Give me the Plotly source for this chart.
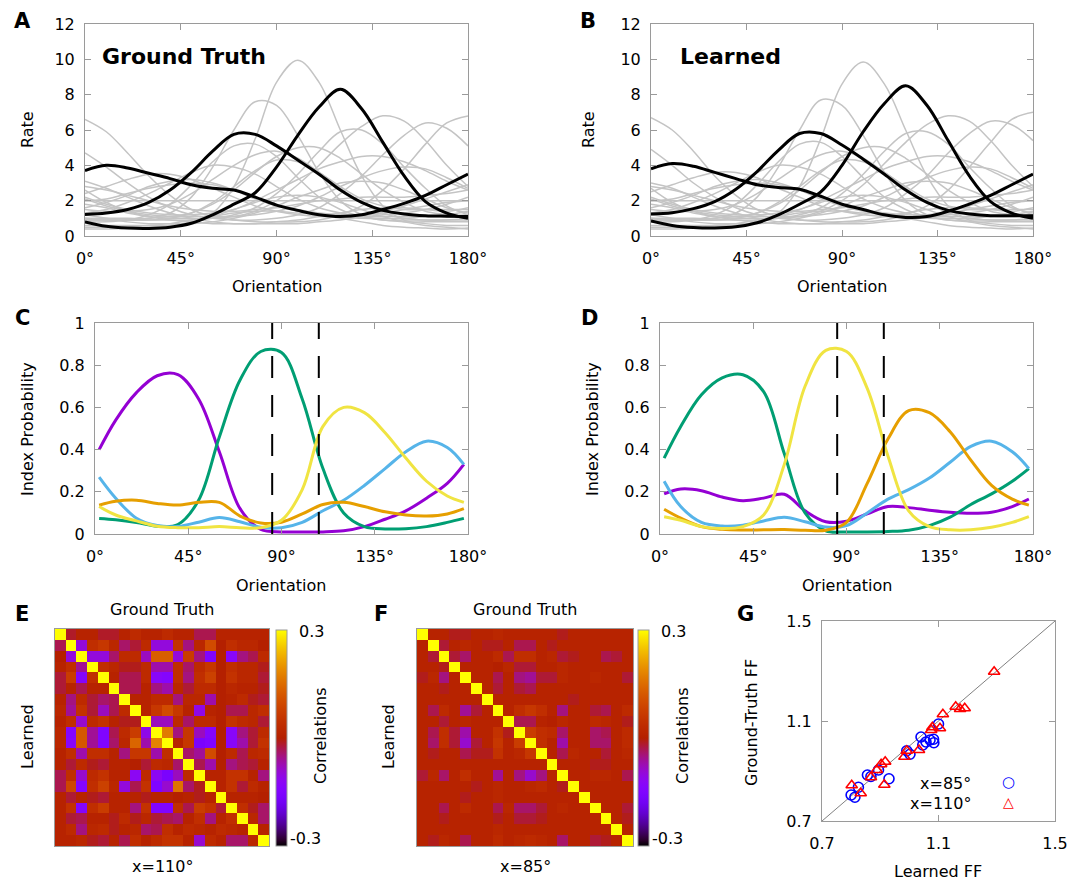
import math
import plotly.graph_objects as go

W, H = 1087, 881
OFF = 8  # page body margin of the browser
FONT = "DejaVu Sans"

# ---------------- data: panels A / B (tuning curves) ----------------
orient = [0, 10, 20, 30, 40, 50, 60, 70, 80, 90, 100, 110, 120, 130, 140, 150, 160, 170, 180]

gt_gray = [
    [0.6, 0.6, 0.6, 0.6, 0.6, 0.8, 1.3, 2.8, 5.5, 8.7, 9.95, 8.7, 6.0, 3.4, 1.7, 0.9, 0.7, 0.6, 0.6],
    [0.9, 0.9, 0.9, 1.0, 1.3, 2.2, 3.9, 6.0, 7.6, 7.4, 5.7, 3.6, 2.0, 1.2, 0.9, 0.9, 0.9, 0.9, 0.9],
    [2.6, 1.9, 1.4, 1.1, 1.0, 1.0, 1.0, 1.1, 1.4, 2.0, 2.9, 4.0, 5.2, 6.2, 6.8, 6.5, 5.4, 4.0, 2.8],
    [4.7, 3.9, 3.0, 2.2, 1.6, 1.2, 1.0, 0.9, 0.9, 1.0, 1.2, 1.6, 2.4, 3.4, 4.6, 5.7, 6.4, 6.1, 5.1],
    [6.6, 5.9, 4.7, 3.4, 2.3, 1.5, 1.1, 0.9, 0.8, 0.8, 0.8, 0.9, 1.2, 1.7, 2.6, 3.8, 5.2, 6.4, 6.8],
    [0.9, 0.9, 0.9, 0.9, 0.9, 0.9, 1.0, 1.2, 1.6, 2.4, 3.5, 4.8, 5.9, 6.0, 5.2, 3.9, 2.7, 1.7, 1.2],
    [0.8, 0.8, 0.9, 1.2, 1.8, 2.9, 4.2, 5.1, 5.2, 4.5, 3.3, 2.2, 1.5, 1.1, 0.9, 0.8, 0.8, 0.8, 0.8],
    [1.0, 1.0, 1.0, 1.0, 1.1, 1.3, 1.8, 2.6, 3.6, 4.5, 5.0, 5.0, 4.4, 3.5, 2.6, 1.9, 1.4, 1.2, 1.0],
    [1.5, 1.4, 1.4, 1.5, 1.8, 2.4, 3.2, 4.0, 4.6, 4.8, 4.4, 3.6, 2.8, 2.1, 1.7, 1.5, 1.5, 1.5, 1.5],
    [2.2, 1.8, 1.5, 1.3, 1.2, 1.2, 1.3, 1.5, 2.0, 2.6, 3.2, 3.8, 4.2, 4.5, 4.5, 4.2, 3.7, 3.1, 2.6],
    [1.3, 1.5, 1.9, 2.4, 3.0, 3.6, 4.0, 3.9, 3.5, 2.8, 2.1, 1.6, 1.3, 1.1, 1.1, 1.1, 1.1, 1.1, 1.2],
    [2.1, 1.7, 1.4, 1.2, 1.1, 1.1, 1.1, 1.1, 1.2, 1.4, 1.7, 2.2, 2.8, 3.3, 3.7, 3.9, 3.8, 3.3, 2.7],
    [2.4, 2.8, 3.2, 3.5, 3.5, 3.2, 2.7, 2.2, 1.7, 1.4, 1.2, 1.1, 1.1, 1.1, 1.2, 1.3, 1.5, 1.8, 2.2],
    [1.6, 1.9, 2.3, 2.8, 3.1, 3.2, 3.0, 2.6, 2.1, 1.7, 1.4, 1.2, 1.1, 1.0, 1.0, 1.0, 1.1, 1.2, 1.4],
    [3.1, 2.7, 2.2, 1.7, 1.3, 1.0, 0.8, 0.7, 0.7, 0.7, 0.7, 0.8, 0.9, 1.1, 1.4, 1.7, 2.1, 2.5, 2.9],
    [2.8, 2.6, 2.3, 2.0, 1.7, 1.5, 1.4, 1.4, 1.5, 1.6, 1.8, 2.0, 2.1, 2.2, 2.2, 2.2, 2.3, 2.4, 2.6],
    [2.0, 2.0, 2.0, 2.0, 2.0, 2.0, 2.0, 2.0, 2.0, 2.0, 2.0, 2.0, 2.0, 2.0, 2.0, 2.0, 2.0, 2.0, 2.0],
    [0.5, 0.5, 0.5, 0.6, 0.7, 0.9, 1.1, 1.3, 1.4, 1.4, 1.3, 1.2, 1.0, 0.8, 0.6, 0.5, 0.45, 0.4, 0.45],
    [1.8, 1.6, 1.3, 1.1, 0.9, 0.8, 0.7, 0.7, 0.7, 0.8, 0.9, 1.1, 1.3, 1.5, 1.6, 1.6, 1.5, 1.4, 1.6],
    [0.4, 0.4, 0.45, 0.5, 0.6, 0.8, 1.1, 1.5, 1.9, 2.2, 2.3, 2.2, 1.9, 1.5, 1.1, 0.8, 0.6, 0.5, 0.4],
    [2.0, 2.1, 2.4, 2.7, 2.9, 3.0, 2.9, 2.6, 2.2, 1.8, 1.5, 1.3, 1.2, 1.2, 1.3, 1.5, 1.7, 1.9, 2.0],
    [1.0, 0.9, 0.9, 0.9, 1.0, 1.3, 1.9, 2.8, 3.7, 4.3, 4.2, 3.6, 2.7, 1.9, 1.3, 1.0, 0.9, 0.9, 1.0],
    [1.2, 1.0, 0.8, 0.7, 0.7, 0.7, 0.8, 1.0, 1.3, 1.7, 2.2, 2.6, 3.0, 3.1, 3.0, 2.6, 2.1, 1.6, 1.3],
]
gt_black = [
    [3.7, 4.0, 3.85, 3.55, 3.25, 2.9, 2.7, 2.6, 2.2, 1.75, 1.45, 1.2, 1.1, 1.2, 1.5, 1.85, 2.3, 2.9, 3.5],
    [1.22, 1.3, 1.5, 1.9, 2.6, 3.6, 4.8, 5.75, 5.75, 5.1, 4.3, 3.5, 2.6, 1.9, 1.45, 1.25, 1.15, 1.12, 1.1],
    [0.8, 0.55, 0.45, 0.43, 0.5, 0.72, 1.2, 1.8, 2.45, 3.9, 5.7, 7.3, 8.3, 7.2, 5.3, 3.4, 1.95, 1.3, 1.0],
]
learned_gray = [
    [0.6, 0.6, 0.6, 0.6, 0.6, 0.8, 1.3, 2.8, 5.5, 8.6, 9.85, 8.6, 6.0, 3.4, 1.7, 0.9, 0.7, 0.6, 0.6],
    [0.9, 0.9, 0.9, 1.0, 1.3, 2.2, 3.9, 6.0, 7.7, 7.4, 5.7, 3.6, 2.0, 1.2, 0.9, 0.9, 0.9, 0.9, 0.9],
    [2.7, 1.9, 1.4, 1.1, 1.0, 1.0, 1.0, 1.1, 1.4, 2.0, 2.9, 4.1, 5.3, 6.3, 6.8, 6.5, 5.4, 4.0, 2.8],
    [4.9, 4.0, 3.0, 2.2, 1.6, 1.2, 1.0, 0.9, 0.9, 1.0, 1.2, 1.6, 2.4, 3.4, 4.7, 5.8, 6.5, 6.3, 5.4],
    [6.7, 6.0, 4.8, 3.4, 2.3, 1.5, 1.1, 0.9, 0.8, 0.8, 0.8, 0.9, 1.2, 1.7, 2.6, 3.9, 5.3, 6.6, 7.0],
    [0.9, 0.9, 0.9, 0.9, 0.9, 0.9, 1.0, 1.2, 1.6, 2.4, 3.5, 4.8, 5.8, 5.9, 5.2, 3.9, 2.7, 1.7, 1.2],
    [0.8, 0.8, 0.9, 1.2, 1.8, 2.9, 4.2, 5.2, 5.3, 4.5, 3.3, 2.2, 1.5, 1.1, 0.9, 0.8, 0.8, 0.8, 0.8],
    [1.0, 1.0, 1.0, 1.0, 1.1, 1.3, 1.8, 2.6, 3.6, 4.5, 5.0, 5.0, 4.4, 3.5, 2.6, 1.9, 1.4, 1.2, 1.0],
    [1.5, 1.4, 1.4, 1.5, 1.8, 2.4, 3.2, 4.0, 4.6, 4.8, 4.4, 3.6, 2.8, 2.1, 1.7, 1.5, 1.5, 1.5, 1.5],
    [2.2, 1.8, 1.5, 1.3, 1.2, 1.2, 1.3, 1.5, 2.0, 2.6, 3.2, 3.8, 4.2, 4.5, 4.5, 4.2, 3.7, 3.1, 2.6],
    [1.3, 1.5, 1.9, 2.4, 3.0, 3.6, 4.0, 3.9, 3.5, 2.8, 2.1, 1.6, 1.3, 1.1, 1.1, 1.1, 1.1, 1.1, 1.2],
    [2.1, 1.7, 1.4, 1.2, 1.1, 1.1, 1.1, 1.1, 1.2, 1.4, 1.7, 2.2, 2.8, 3.3, 3.7, 3.9, 3.8, 3.3, 2.7],
    [2.5, 2.9, 3.3, 3.6, 3.6, 3.3, 2.7, 2.2, 1.7, 1.4, 1.2, 1.1, 1.1, 1.1, 1.2, 1.3, 1.5, 1.8, 2.2],
    [1.6, 1.9, 2.3, 2.8, 3.1, 3.2, 3.0, 2.6, 2.1, 1.7, 1.4, 1.2, 1.1, 1.0, 1.0, 1.0, 1.1, 1.2, 1.4],
    [3.0, 2.7, 2.2, 1.7, 1.3, 1.0, 0.8, 0.7, 0.7, 0.7, 0.7, 0.8, 0.9, 1.1, 1.4, 1.7, 2.1, 2.5, 2.9],
    [2.8, 2.6, 2.3, 2.0, 1.7, 1.5, 1.4, 1.4, 1.5, 1.6, 1.8, 2.0, 2.1, 2.2, 2.2, 2.2, 2.3, 2.4, 2.6],
    [2.0, 2.0, 2.0, 2.0, 2.0, 2.0, 2.0, 2.0, 2.0, 2.0, 2.0, 2.0, 2.0, 2.0, 2.0, 2.0, 2.0, 2.0, 2.0],
    [0.5, 0.5, 0.5, 0.6, 0.7, 0.9, 1.1, 1.3, 1.4, 1.4, 1.3, 1.2, 1.0, 0.8, 0.6, 0.5, 0.45, 0.4, 0.45],
    [1.8, 1.6, 1.3, 1.1, 0.9, 0.8, 0.7, 0.7, 0.7, 0.8, 0.9, 1.1, 1.3, 1.5, 1.6, 1.6, 1.5, 1.4, 1.6],
    [0.4, 0.4, 0.45, 0.5, 0.6, 0.8, 1.1, 1.5, 1.9, 2.2, 2.3, 2.2, 1.9, 1.5, 1.1, 0.8, 0.6, 0.5, 0.4],
    [2.0, 2.1, 2.4, 2.7, 2.9, 3.0, 2.9, 2.6, 2.2, 1.8, 1.5, 1.3, 1.2, 1.2, 1.3, 1.5, 1.7, 1.9, 2.0],
    [1.0, 0.9, 0.9, 0.9, 1.0, 1.3, 1.9, 2.8, 3.7, 4.3, 4.2, 3.6, 2.7, 1.9, 1.3, 1.0, 0.9, 0.9, 1.0],
    [1.2, 1.0, 0.8, 0.7, 0.7, 0.7, 0.8, 1.0, 1.3, 1.7, 2.2, 2.6, 3.0, 3.1, 3.0, 2.6, 2.1, 1.6, 1.3],
]
learned_black = [
    [3.8, 4.1, 3.95, 3.6, 3.25, 2.9, 2.75, 2.65, 2.25, 1.8, 1.5, 1.2, 1.05, 1.1, 1.4, 1.8, 2.3, 2.9, 3.5],
    [1.25, 1.32, 1.55, 1.95, 2.65, 3.65, 4.85, 5.8, 5.8, 5.15, 4.35, 3.5, 2.6, 1.9, 1.45, 1.25, 1.15, 1.15, 1.15],
    [0.85, 0.6, 0.48, 0.45, 0.52, 0.75, 1.2, 1.8, 2.5, 4.0, 5.9, 7.5, 8.5, 7.4, 5.4, 3.4, 1.95, 1.3, 1.0],
]

# ---------------- data: panels C / D (index probabilities) ----------------
prob_orient = [2, 10, 20, 30, 40, 50, 60, 70, 80, 90, 100, 110, 120, 130, 140, 150, 160, 170, 178]

gt_purple = [0.40, 0.54, 0.67, 0.75, 0.755, 0.64, 0.39, 0.12, 0.022, 0.01, 0.01, 0.01, 0.015, 0.035, 0.07, 0.11, 0.17, 0.24, 0.33]
gt_green = [0.074, 0.068, 0.055, 0.037, 0.045, 0.16, 0.46, 0.73, 0.865, 0.86, 0.64, 0.31, 0.10, 0.035, 0.024, 0.025, 0.035, 0.055, 0.074]
gt_blue = [0.27, 0.17, 0.075, 0.04, 0.036, 0.056, 0.078, 0.058, 0.032, 0.03, 0.055, 0.11, 0.16, 0.23, 0.31, 0.39, 0.44, 0.41, 0.33]
gt_orange = [0.137, 0.155, 0.16, 0.145, 0.137, 0.15, 0.15, 0.085, 0.052, 0.056, 0.095, 0.14, 0.15, 0.13, 0.105, 0.09, 0.085, 0.095, 0.12]
gt_yellow = [0.13, 0.09, 0.062, 0.037, 0.03, 0.03, 0.035, 0.03, 0.03, 0.065, 0.21, 0.51, 0.60, 0.575, 0.48, 0.36, 0.25, 0.18, 0.15]

lr_purple = [0.19, 0.213, 0.205, 0.175, 0.158, 0.17, 0.188, 0.11, 0.058, 0.06, 0.095, 0.13, 0.125, 0.113, 0.103, 0.098, 0.103, 0.13, 0.166]
lr_green = [0.36, 0.51, 0.66, 0.74, 0.755, 0.675, 0.38, 0.10, 0.015, 0.01, 0.01, 0.012, 0.018, 0.04, 0.08, 0.14, 0.19, 0.25, 0.31]
lr_blue = [0.25, 0.13, 0.055, 0.038, 0.042, 0.062, 0.079, 0.058, 0.033, 0.04, 0.10, 0.165, 0.21, 0.265, 0.34, 0.415, 0.44, 0.39, 0.31]
lr_orange = [0.117, 0.075, 0.035, 0.022, 0.019, 0.02, 0.021, 0.018, 0.018, 0.055, 0.24, 0.45, 0.585, 0.575, 0.485, 0.35, 0.23, 0.165, 0.137]
lr_yellow = [0.082, 0.065, 0.035, 0.026, 0.035, 0.09, 0.33, 0.70, 0.87, 0.865, 0.69, 0.37, 0.11, 0.035, 0.02, 0.02, 0.032, 0.055, 0.082]

probe_orientations = [85.5, 108]

# ---------------- data: panels E / F (correlation matrices) ----------------
corr_110 = [
    [1, -0.015, 0.01, 0.01, -0.015, -0.015, 0.01, 0.03, 0.01, 0.01, 0.03, 0.01, 0.01, -0.03, -0.03, 0.01, 0.01, 0.01, 0.01, 0.01],
    [-0.03, 1, -0.1, 0.04, 0.06, 0.02, -0.04, -0.02, 0.03, -0.1, -0.1, 0.05, -0.05, 0.02, 0.1, 0.0, 0.04, 0.02, 0.02, 0.0],
    [0.0, -0.1, 1, -0.1, -0.1, -0.04, 0.03, 0.03, -0.08, 0.13, 0.13, -0.1, 0.07, -0.05, -0.15, 0.0, -0.13, -0.05, -0.03, 0.03],
    [0.01, 0.04, -0.06, 1, 0.04, 0.02, -0.01, -0.01, 0.03, -0.07, -0.07, 0.04, -0.04, 0.03, 0.06, 0.0, 0.04, 0.02, 0.02, -0.01],
    [-0.02, 0.07, -0.14, 0.04, 1, 0.01, -0.03, -0.03, 0.03, -0.13, -0.14, 0.04, -0.05, 0.04, 0.08, 0.0, 0.05, 0.02, 0.02, -0.02],
    [-0.02, 0.01, -0.03, 0.01, 0.01, 1, -0.03, -0.03, 0.01, -0.05, -0.07, 0.02, -0.02, 0.03, 0.03, 0.0, 0.02, 0.01, 0.01, -0.01],
    [0.01, -0.05, 0.03, -0.02, -0.04, -0.03, 1, 0.01, 0.01, 0.03, 0.03, -0.05, 0.02, 0.02, -0.07, 0.0, 0.01, 0.03, -0.01, -0.02],
    [0.02, -0.06, 0.05, -0.02, -0.08, -0.03, 0.03, 1, 0.01, 0.06, 0.1, 0.06, 0.01, -0.11, 0.01, 0.0, -0.03, -0.03, 0.02, 0.04],
    [0.01, 0.04, -0.09, 0.03, 0.05, 0.01, -0.01, -0.01, 1, -0.08, -0.08, 0.03, -0.04, 0.03, 0.03, 0.0, 0.05, 0.03, 0.02, -0.02],
    [0.02, -0.14, 0.12, -0.06, -0.15, -0.03, 0.03, 0.07, -0.11, 1, 0.17, -0.05, 0.06, -0.08, -0.14, 0.0, -0.13, -0.05, -0.02, 0.03],
    [0.02, -0.13, 0.12, -0.06, -0.15, -0.04, 0.02, 0.14, -0.07, 0.18, 1, 0.01, 0.06, -0.16, -0.15, 0.0, -0.13, -0.07, -0.02, 0.05],
    [0.01, 0.04, -0.07, 0.04, 0.04, 0.01, -0.05, 0.06, 0.06, -0.07, 0.04, 1, -0.04, -0.06, 0.1, 0.0, 0.03, -0.03, 0.02, 0.03],
    [0.01, -0.02, 0.03, -0.01, -0.02, 0.01, 0.01, 0.0, -0.02, 0.03, 0.02, -0.04, 1, -0.03, -0.07, 0.0, -0.05, -0.03, -0.02, 0.01],
    [-0.03, 0.04, -0.09, 0.03, 0.05, 0.01, 0.01, -0.12, 0.03, -0.12, -0.16, -0.08, 0.03, 1, 0.01, 0.01, 0.05, 0.05, 0.01, -0.05],
    [-0.03, 0.09, -0.14, 0.04, 0.08, 0.02, -0.1, -0.03, 0.05, -0.15, -0.09, 0.16, -0.04, -0.01, 1, 0.01, 0.05, -0.02, 0.03, 0.01],
    [0.01, -0.02, 0.01, -0.01, -0.02, 0.01, 0.01, 0.01, -0.01, 0.01, 0.01, 0.0, 0.01, -0.01, 0.01, 1, 0.01, 0.01, 0.01, 0.0],
    [0.01, 0.05, -0.14, 0.04, 0.07, 0.01, 0.01, -0.05, 0.05, -0.15, -0.15, 0.04, -0.03, 0.07, 0.05, -0.02, 1, 0.04, -0.01, -0.04],
    [0.01, -0.02, -0.03, 0.01, 0.01, -0.01, 0.03, -0.01, 0.02, -0.02, -0.03, -0.04, 0.01, 0.04, -0.05, 0.01, 0.04, 1, 0.02, -0.04],
    [0.01, 0.03, -0.05, 0.02, 0.03, -0.01, 0.01, 0.02, -0.04, -0.03, 0.04, 0.01, 0.03, 0.02, 0.01, 0.03, 0.02, 0.01, 1, 0.01],
    [0.01, 0.01, 0.02, -0.01, -0.02, 0.01, -0.03, 0.04, 0.01, 0.03, 0.05, 0.05, 0.01, -0.09, 0.03, 0.01, -0.04, -0.04, 0.02, 1],
]
corr_85 = [
    [1, 0.01, 0.01, -0.01, -0.01, 0.01, 0.01, 0.02, 0.01, 0.01, 0.01, 0.01, 0.01, -0.01, 0.01, 0.01, 0.01, 0.01, 0.01, 0.01],
    [0.01, 1, -0.02, 0.01, 0.02, 0.01, -0.01, -0.01, 0.01, -0.03, -0.03, 0.01, -0.01, 0.01, 0.01, 0.01, 0.01, 0.01, 0.01, 0.01],
    [0.01, -0.02, 1, -0.02, -0.04, 0.01, 0.01, 0.03, -0.03, 0.04, 0.04, 0.01, 0.02, -0.02, -0.01, 0.01, 0.01, -0.03, -0.02, 0.01],
    [0.01, 0.01, -0.01, 1, 0.01, 0.01, 0.01, 0.0, 0.02, -0.02, -0.02, 0.01, 0.01, 0.02, 0.01, 0.01, 0.01, 0.01, 0.01, 0.01],
    [-0.01, 0.02, -0.05, 0.01, 1, 0.01, 0.01, -0.03, 0.01, -0.05, -0.06, -0.02, -0.02, 0.02, 0.01, 0.01, 0.02, 0.01, 0.01, -0.02],
    [0.01, 0.01, -0.01, 0.01, 0.01, 1, 0.01, -0.02, 0.01, -0.02, -0.03, 0.01, 0.01, 0.01, 0.01, 0.01, 0.01, 0.01, 0.01, 0.01],
    [0.01, 0.01, 0.01, 0.01, 0.01, 0.01, 1, 0.01, 0.01, 0.01, 0.01, 0.01, 0.01, 0.01, -0.01, 0.01, 0.01, 0.01, 0.01, 0.01],
    [0.01, -0.03, 0.03, 0.01, -0.06, -0.02, 0.01, 1, 0.01, 0.04, 0.06, 0.04, 0.01, -0.05, 0.01, 0.01, -0.02, -0.03, 0.01, 0.03],
    [0.01, 0.01, -0.02, 0.01, 0.02, 0.01, 0.01, 0.01, 1, -0.03, -0.03, 0.01, 0.0, 0.02, 0.01, 0.01, 0.03, 0.02, 0.01, -0.01],
    [0.01, -0.03, 0.04, -0.02, -0.07, 0.01, 0.01, 0.05, -0.01, 1, 0.07, 0.04, 0.03, -0.04, 0.01, 0.01, -0.04, -0.03, 0.01, 0.03],
    [0.01, -0.04, 0.04, -0.02, -0.09, -0.02, 0.01, 0.06, 0.01, 0.07, 1, 0.04, 0.01, -0.07, 0.01, 0.01, -0.04, -0.04, 0.01, 0.03],
    [0.01, -0.01, 0.01, 0.01, -0.03, -0.01, -0.01, 0.05, 0.01, 0.02, 0.06, 1, 0.01, -0.03, 0.02, 0.01, 0.01, -0.02, 0.01, 0.02],
    [0.01, 0.01, 0.01, 0.01, 0.01, 0.01, 0.01, 0.01, 0.01, 0.01, 0.01, 0.01, 1, 0.01, 0.01, 0.01, -0.01, -0.01, 0.01, 0.01],
    [-0.02, 0.02, -0.04, 0.01, 0.04, 0.01, 0.01, -0.06, 0.01, -0.05, -0.09, -0.05, 0.01, 1, 0.01, 0.01, 0.02, 0.02, 0.01, -0.03],
    [0.01, 0.01, 0.01, 0.01, 0.01, -0.01, 0.01, 0.02, 0.01, 0.01, 0.02, 0.03, 0.01, -0.01, 1, 0.01, 0.01, 0.01, 0.01, 0.01],
    [0.01, 0.01, 0.01, 0.01, -0.01, 0.01, 0.01, 0.02, 0.01, 0.01, 0.01, 0.01, 0.01, 0.01, 0.01, 1, 0.01, 0.01, 0.01, 0.01],
    [0.01, 0.01, -0.03, 0.01, 0.03, 0.01, 0.01, -0.03, 0.02, -0.04, -0.04, -0.02, 0.01, 0.02, 0.01, 0.01, 1, 0.01, 0.01, -0.02],
    [0.01, 0.01, -0.01, 0.01, 0.01, 0.01, 0.01, -0.01, 0.01, -0.02, -0.02, -0.01, 0.01, 0.01, 0.01, 0.01, 0.01, 1, 0.01, -0.01],
    [0.01, 0.01, 0.01, 0.01, 0.01, 0.01, 0.01, 0.02, 0.01, 0.01, 0.01, 0.01, 0.01, 0.01, 0.01, 0.01, 0.01, 0.01, 1, 0.01],
    [0.01, -0.01, 0.02, 0.01, -0.03, 0.01, 0.01, 0.03, 0.01, 0.02, 0.03, 0.02, 0.01, -0.04, 0.01, 0.01, -0.02, -0.01, 0.01, 1],
]

# ---------------- data: panel G (Fano factors) ----------------
ff85_learned = [0.800, 0.813, 0.825, 0.856, 0.868, 0.894, 0.930, 0.991, 1.002, 1.040, 1.046, 1.057, 1.071, 1.083, 1.084, 1.100]
ff85_gt = [0.804, 0.795, 0.835, 0.884, 0.878, 0.904, 0.869, 0.981, 0.967, 1.036, 1.004, 1.016, 1.024, 1.027, 1.013, 1.088]
ff110_learned = [0.802, 0.833, 0.868, 0.888, 0.903, 0.917, 0.914, 0.983, 0.991, 1.033, 1.075, 1.079, 1.105, 1.115, 1.159, 1.174, 1.190, 1.291]
ff110_gt = [0.843, 0.811, 0.875, 0.904, 0.927, 0.937, 0.845, 0.957, 0.981, 0.984, 1.064, 1.075, 1.071, 1.127, 1.157, 1.148, 1.151, 1.297]

deg_ticks = [0, 45, 90, 135, 180]
deg_labels = ["0°", "45°", "90°", "135°", "180°"]

# ---------------- styling helpers ----------------
def px(x):
    return (x - OFF) / W


def py(y):
    return 1 - (y - OFF) / H


AXC = "#9a9a9a"
PURPLE, GREEN, BLUE, ORANGE, YELLOW = "#9400d3", "#009e73", "#56b4e9", "#e69f00", "#f0e442"

stops = []
for i in range(41):
    t = i / 40
    r = math.sqrt(t)
    g = t ** 3
    b = max(0.0, math.sin(2 * math.pi * t))
    stops.append([t, "rgb(%d,%d,%d)" % (round(255 * r), round(255 * g), round(255 * b))])


def axis_style(**kw):
    d = dict(showline=True, linecolor=AXC, linewidth=1, mirror="ticks", ticks="inside",
             ticklen=6, tickcolor=AXC, tickwidth=1, showgrid=False, zeroline=False,
             automargin=False,
             tickfont=dict(family=FONT, size=16, color="black"))
    d.update(kw)
    return d


fig = go.Figure()

# Panels A and B
for xa, ya, grays, blacks in [("x", "y", gt_gray, gt_black), ("x2", "y2", learned_gray, learned_black)]:
    for cur in grays:
        fig.add_trace(go.Scatter(x=orient, y=cur, xaxis=xa, yaxis=ya, mode="lines",
                                 line=dict(color="#c4c4c4", width=1.5, shape="spline", smoothing=1.0),
                                 showlegend=False, hoverinfo="skip"))
    for cur in blacks:
        fig.add_trace(go.Scatter(x=orient, y=cur, xaxis=xa, yaxis=ya, mode="lines",
                                 line=dict(color="black", width=3, shape="spline", smoothing=1.0),
                                 showlegend=False, hoverinfo="skip"))

# Panels C and D
for xa, ya, series in [("x3", "y3", [(gt_purple, PURPLE), (gt_green, GREEN), (gt_blue, BLUE), (gt_orange, ORANGE), (gt_yellow, YELLOW)]),
                       ("x4", "y4", [(lr_purple, PURPLE), (lr_green, GREEN), (lr_blue, BLUE), (lr_orange, ORANGE), (lr_yellow, YELLOW)])]:
    for vals, col in series:
        fig.add_trace(go.Scatter(x=prob_orient, y=vals, xaxis=xa, yaxis=ya, mode="lines",
                                 line=dict(color=col, width=3, shape="spline", smoothing=1.0),
                                 showlegend=False, hoverinfo="skip"))

# Panels E and F
for xa, ya, mat, cbx in [("x5", "y5", corr_110, 276), ("x6", "y6", corr_85, 638)]:
    fig.add_trace(go.Heatmap(z=mat, xaxis=xa, yaxis=ya, colorscale=stops, zmin=-0.3, zmax=0.3,
                             hoverinfo="skip",
                             colorbar=dict(x=px(cbx), xanchor="left", xpad=0, ypad=0,
                                           y=py(738), yanchor="middle", len=216, lenmode="pixels",
                                           thickness=11, thicknessmode="pixels",
                                           outlinecolor=AXC, outlinewidth=1,
                                           showticklabels=False, ticks="")))

# Panel G
fig.add_trace(go.Scatter(x=ff85_learned, y=ff85_gt, xaxis="x7", yaxis="y7", mode="markers",
                         marker=dict(symbol="circle-open", size=10, color="#0000ff", line=dict(width=1.6)),
                         showlegend=False, hoverinfo="skip"))
fig.add_trace(go.Scatter(x=ff110_learned, y=ff110_gt, xaxis="x7", yaxis="y7", mode="markers",
                         marker=dict(symbol="triangle-up-open", size=10, color="#ff0000", line=dict(width=1.6)),
                         showlegend=False, hoverinfo="skip"))

shapes = []
for xr, yr in [("x3", "y3"), ("x4", "y4")]:
    for v in probe_orientations:
        shapes.append(dict(type="line", xref=xr, yref=yr, x0=v, x1=v, y0=0, y1=1,
                           line=dict(color="black", width=2, dash="22px,17px")))
shapes.append(dict(type="line", xref="x7", yref="y7", x0=0.7, y0=0.7, x1=1.5, y1=1.5,
                   line=dict(color="#808080", width=1), layer="below"))

layout = dict(
    width=W, height=H, margin=dict(l=0, r=0, t=0, b=0, autoexpand=False),
    paper_bgcolor="white", plot_bgcolor="white", showlegend=False,
    font=dict(family=FONT, size=16, color="black"),
    shapes=shapes,
)

# A / B axes
layout["xaxis"] = axis_style(domain=[px(85), px(468)], anchor="y", range=[0, 180],
                             tickvals=deg_ticks, ticktext=deg_labels, ticklabelstandoff=8)
layout["yaxis"] = axis_style(domain=[py(236), py(24)], anchor="x", range=[0, 12],
                             tickvals=[0, 2, 4, 6, 8, 10, 12], ticklabelstandoff=6)
layout["xaxis2"] = axis_style(domain=[px(651), px(1033)], anchor="y2", range=[0, 180],
                              tickvals=deg_ticks, ticktext=deg_labels, ticklabelstandoff=8)
layout["yaxis2"] = axis_style(domain=[py(236), py(24)], anchor="x2", range=[0, 12],
                              tickvals=[0, 2, 4, 6, 8, 10, 12], ticklabelstandoff=6)
# C / D axes
prob_ticks = [0, 0.2, 0.4, 0.6, 0.8, 1]
prob_labels = ["0", "0.2", "0.4", "0.6", "0.8", "1"]
layout["xaxis3"] = axis_style(domain=[px(95), px(468)], anchor="y3", range=[0, 180],
                              tickvals=deg_ticks, ticktext=deg_labels, ticklabelstandoff=8)
layout["yaxis3"] = axis_style(domain=[py(534), py(323)], anchor="x3", range=[0, 1],
                              tickvals=prob_ticks, ticktext=prob_labels, ticklabelstandoff=6)
layout["xaxis4"] = axis_style(domain=[px(660), px(1033)], anchor="y4", range=[0, 180],
                              tickvals=deg_ticks, ticktext=deg_labels, ticklabelstandoff=8)
layout["yaxis4"] = axis_style(domain=[py(534), py(323)], anchor="x4", range=[0, 1],
                              tickvals=prob_ticks, ticktext=prob_labels, ticklabelstandoff=6)
# E / F axes
for n, (x0, x1) in [(5, (55, 269)), (6, (417, 633))]:
    layout["xaxis%d" % n] = dict(domain=[px(x0), px(x1)], anchor="y%d" % n, range=[-0.5, 19.5],
                                 showline=True, linecolor=AXC, mirror=True, showticklabels=False,
                                 ticks="", showgrid=False, zeroline=False, automargin=False)
    layout["yaxis%d" % n] = dict(domain=[py(846), py(629)], anchor="x%d" % n, range=[19.5, -0.5],
                                 showline=True, linecolor=AXC, mirror=True, showticklabels=False,
                                 ticks="", showgrid=False, zeroline=False, automargin=False)
# G axes
layout["xaxis7"] = axis_style(domain=[px(822), px(1055)], anchor="y7", range=[0.7, 1.5],
                              tickvals=[0.7, 1.1, 1.5], ticktext=["0.7", "1.1", "1.5"], ticklabelstandoff=8)
layout["yaxis7"] = axis_style(domain=[py(821), py(621)], anchor="x7", range=[0.7, 1.5],
                              tickvals=[0.7, 1.1, 1.5], ticktext=["0.7", "1.1", "1.5"], ticklabelstandoff=6)

fig.update_layout(**layout)


def ann(text, x, y, size=16, bold=False, angle=0, xanchor="center", color="black", pad=1):
    if bold:
        text = "<b>%s</b>" % text
    fig.add_annotation(text=text, x=px(x), y=py(y), xref="paper", yref="paper",
                       showarrow=False, xanchor=xanchor, yanchor="middle", textangle=angle,
                       borderpad=pad, font=dict(family=FONT, size=size, color=color))


# panel letters
for letter, (x, y) in zip("ABCDEFG", [(22, 21), (588, 21), (22, 318), (589, 318), (22, 614), (381, 614), (745, 614)]):
    ann(letter, x, y, size=21, bold=True, pad=0)

ann("Ground Truth", 100, 56, size=22, bold=True, xanchor="left")
ann("Learned", 678, 56, size=22, bold=True, xanchor="left")

ann("Rate", 27, 130, angle=-90)
ann("Rate", 588, 130, angle=-90)
ann("Orientation", 277, 287)
ann("Orientation", 842, 287)
ann("Index Probability", 27, 429, angle=-90)
ann("Index Probability", 592, 429, angle=-90)
ann("Orientation", 281, 585)
ann("Orientation", 847, 585)

# heatmap labels
for cx, ly, cbx, lab in [(162, 27, 276, "x=110°"), (525, 388, 638, "x=85°")]:
    ann("Ground Truth", cx, 609)
    ann(lab, cx, 866)
    ann("Learned", ly, 737, angle=-90)
    ann("0.3", cbx + 21, 631, xanchor="left")
    ann("-0.3", cbx + 47, 838, xanchor="right")
    ann("Correlations", cbx + 44, 736, angle=-90)

# panel G labels and key
ann("Ground-Truth FF", 751, 723, angle=-90)
ann("Learned FF", 938, 871)
ann("x=85°", 973, 783, xanchor="right")
ann("x=110°", 973, 803, xanchor="right")
ann("○", 1008, 782, size=15, color="#0000ff")
ann("△", 1008, 802, size=14, color="#ff0000")

fig.write_html("out.html")
